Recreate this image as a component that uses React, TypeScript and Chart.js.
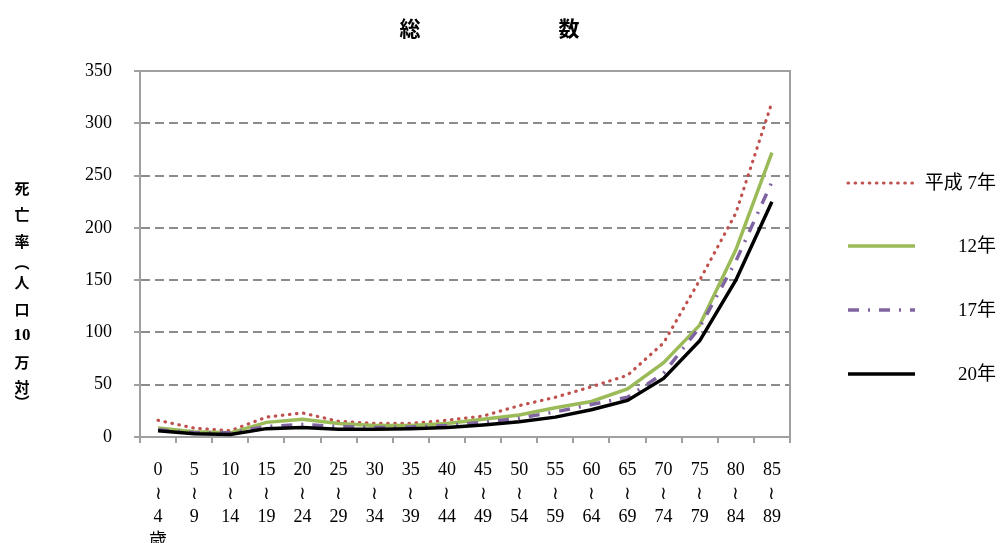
import React, { useEffect, useRef } from "react";
import { Chart, registerables } from "chart.js";

Chart.register(...registerables);

const ageFrom = ["0", "5", "10", "15", "20", "25", "30", "35", "40", "45", "50", "55", "60", "65", "70", "75", "80", "85"];
const ageTo = ["4", "9", "14", "19", "24", "29", "34", "39", "44", "49", "54", "59", "64", "69", "74", "79", "84", "89"];
const categories = ageFrom.map((f, i) => (i === 0 ? [f, "≀", ageTo[i], "歳"] : [f, "≀", ageTo[i]]));

const seriesNames = ["平成 7年", "12年", "17年", "20年"];
const h7 = [16, 8.5, 6, 19, 23, 15, 13, 13, 16, 20, 30, 38, 48, 59, 90, 150, 214, 320];
const h12 = [8.5, 5, 4, 14, 17, 13, 11, 11, 13, 17, 21, 28, 34, 46, 71, 107, 179, 272];
const h17 = [7, 4, 4, 10, 12, 10, 9, 9.5, 11, 14, 18, 24, 31, 38, 61, 105, 168, 244];
const h20 = [6, 3, 2.5, 8, 9, 7.5, 7.5, 8, 9, 11.5, 14.5, 19, 26, 35, 56, 92, 150, 225];

const yMin = 0;
const yMax = 350;
const yStep = 50;

const titleChars = ["総", "数"];
const yTitleChars = ["死", "亡", "率", "︵", "人", "口", "10", "万", "対", "︶"];

const SERIF = '"Liberation Serif", "DejaVu Serif", "Noto Sans CJK JP", serif';
const GOTHIC = '"Noto Sans CJK JP", "DejaVu Sans", sans-serif';

export default function App() {
  const ref = useRef<HTMLCanvasElement | null>(null);

  useEffect(() => {
    const canvas = ref.current;
    if (!canvas) return;

    const decor = {
      id: "decor",
      afterDraw(chart: any) {
        const { ctx, chartArea } = chart;
        ctx.save();
        ctx.strokeStyle = "#A0A0A0";
        ctx.lineWidth = 2;
        ctx.setLineDash([]);
        ctx.beginPath();
        ctx.moveTo(chartArea.left, chartArea.top);
        ctx.lineTo(chartArea.right, chartArea.top);
        ctx.lineTo(chartArea.right, chartArea.bottom);
        ctx.stroke();

        ctx.fillStyle = "#000";
        ctx.textAlign = "center";
        ctx.textBaseline = "middle";
        ctx.font = `bold 21px ${GOTHIC}`;
        ctx.fillText(titleChars[0], 410, 28);
        ctx.fillText(titleChars[1], 569, 28);

        const ys = [188, 214, 241, 262, 282, 309, 336, 362, 387, 402];
        yTitleChars.forEach((c, i) => {
          ctx.font = c === "10" ? `bold 17px ${SERIF}` : `bold 15px ${GOTHIC}`;
          ctx.fillText(c, 22, ys[i]);
        });

        const ly = [183, 246, 310, 374];
        chart.data.datasets.forEach((ds: any, i: number) => {
          ctx.save();
          ctx.strokeStyle = ds.borderColor;
          ctx.lineWidth = ds.borderWidth;
          ctx.lineCap = ds.borderCapStyle || "butt";
          ctx.setLineDash(ds.borderDash || []);
          ctx.beginPath();
          ctx.moveTo(848, ly[i]);
          ctx.lineTo(915, ly[i]);
          ctx.stroke();
          ctx.restore();
          ctx.fillStyle = "#000";
          ctx.font = `19px ${SERIF}`;
          ctx.textAlign = "right";
          ctx.textBaseline = "middle";
          ctx.fillText(seriesNames[i], 996, ly[i] + 1);
        });
        ctx.restore();
      },
    };

    const chart = new Chart(canvas, {
      type: "line",
      data: {
        labels: categories as any,
        datasets: [
          {
            label: seriesNames[0],
            data: h7,
            borderColor: "#C0504D",
            borderWidth: 3.2,
            borderDash: [0.5, 6.6],
            borderCapStyle: "round",
            pointRadius: 0,
            tension: 0,
            fill: false,
            order: 4,
          },
          {
            label: seriesNames[1],
            data: h12,
            borderColor: "#9BBB59",
            borderWidth: 3.5,
            pointRadius: 0,
            tension: 0,
            fill: false,
            order: 3,
          },
          {
            label: seriesNames[2],
            data: h17,
            borderColor: "#8064A2",
            borderWidth: 3.5,
            borderDash: [11, 9, 2, 9],
            borderCapStyle: "butt",
            pointRadius: 0,
            tension: 0,
            fill: false,
            order: 2,
          },
          {
            label: seriesNames[3],
            data: h20,
            borderColor: "#000000",
            borderWidth: 3.5,
            pointRadius: 0,
            tension: 0,
            fill: false,
            order: 1,
          },
        ],
      },
      options: {
        animation: false,
        responsive: false,
        devicePixelRatio: 1,
        layout: { padding: { left: 80, right: 210, top: 71, bottom: 0 } },
        plugins: {
          legend: { display: false },
          title: { display: false },
          tooltip: { enabled: false },
        },
        scales: {
          x: {
            type: "category",
            offset: true,
            grid: {
              display: true,
              drawOnChartArea: false,
              drawTicks: true,
              tickLength: 6,
              color: "#A0A0A0",
              lineWidth: 2,
              offset: true,
            },
            border: { display: true, color: "#A0A0A0", width: 2 },
            ticks: {
              autoSkip: false,
              maxRotation: 0,
              minRotation: 0,
              padding: 16,
              color: "#000",
              font: { family: SERIF, size: 18, lineHeight: 1.3 },
            },
            afterFit: (s: any) => {
              s.height = 106;
            },
          },
          y: {
            min: yMin,
            max: yMax,
            ticks: {
              stepSize: yStep,
              padding: 22,
              color: "#000",
              font: { family: SERIF, size: 18 },
            },
            grid: {
              color: (c: any) =>
                c.tick && (c.tick.value === yMin || c.tick.value === yMax) ? "rgba(0,0,0,0)" : "#8C8C8C",
              lineWidth: 2,
              drawTicks: true,
              tickLength: 6,
              tickColor: "#A0A0A0",
            },
            border: { display: true, color: "#A0A0A0", width: 2, dash: [9, 5] },
            afterFit: (s: any) => {
              s.width = 60;
            },
          },
        },
      },
      plugins: [decor],
    } as any);

    return () => chart.destroy();
  }, []);

  return (
    <div style={{ position: "fixed", left: 0, top: 0, width: 1000, height: 543, background: "#fff" }}>
      <canvas ref={ref} width={1000} height={543} style={{ display: "block", width: 1000, height: 543 }} />
    </div>
  );
}
